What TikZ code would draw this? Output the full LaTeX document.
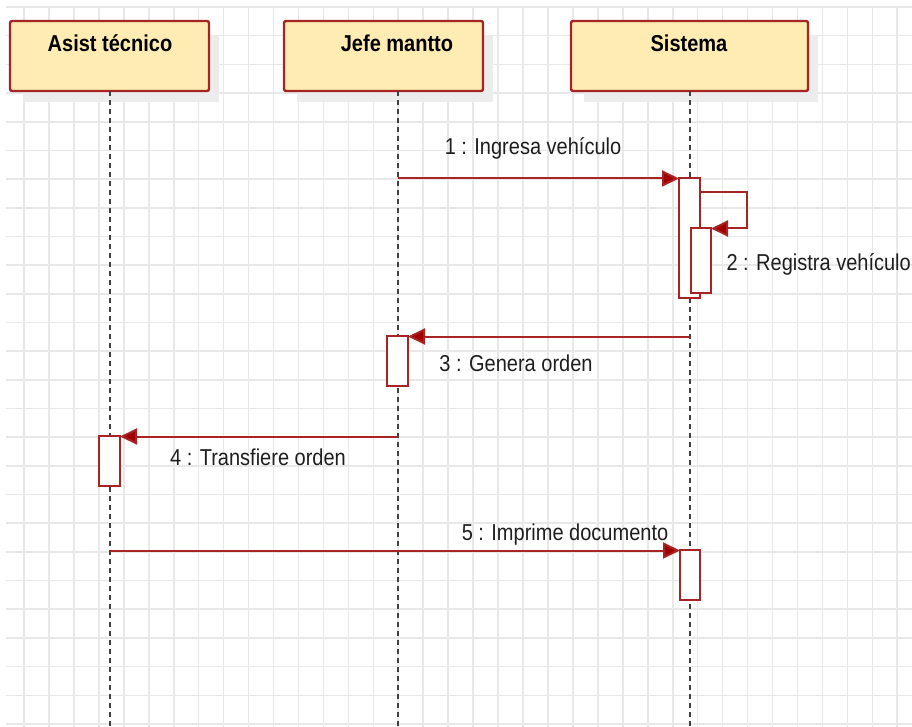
\documentclass[tikz,border=0pt]{standalone}
\usepackage{fontspec}
\setmainfont{Liberation Sans}[FakeStretch=0.87]
\usetikzlibrary{arrows.meta}
\definecolor{gridc}{RGB}{232,232,232}
\definecolor{redc}{RGB}{168,36,36}
\definecolor{arrc}{RGB}{160,0,0}
\definecolor{fillc}{RGB}{255,236,178}
\definecolor{shadc}{RGB}{236,236,236}
\definecolor{txtc}{RGB}{30,30,30}
\tikzset{
  header/.style={draw=redc, line width=2.4pt, fill=fillc, rounded corners=2pt, minimum width=199pt, minimum height=70pt, inner sep=0pt},
  headtext/.style={font=\fontsize{23}{23}\selectfont\bfseries, text=black, anchor=center},
  activ/.style={draw=redc, line width=2pt, fill=white, inner sep=0pt, outer sep=0pt, minimum width=21pt},
  lifeline/.style={draw=black!75, line width=1.4pt, dash pattern=on 5pt off 4pt},
  msg/.style={draw=redc, line width=2pt, -{Triangle[length=17pt,width=16pt,fill=arrc]}},
  msgtext/.style={font=\fontsize{23}{23}\selectfont, text=txtc},
}
\begin{document}
\begin{tikzpicture}[x=1pt,y=-1pt]
\useasboundingbox (0,0) rectangle (912,727);
% grid
\foreach \k in {0,...,25} {
  \draw[gridc, line width=1.6pt] (6,{7+28.68*\k}) -- (912,{7+28.68*\k});
}
\foreach \k in {0,...,35} {
  \draw[gridc, line width=1.6pt] ({24+24.95*\k},7) -- ({24+24.95*\k},727);
}
% shadows
\fill[shadc] (23,35) rectangle (219,102);
\fill[shadc] (297,35) rectangle (493,102);
\fill[shadc] (584,35) rectangle (818,102);
% headers
\node[header] (asist) at (109.5,56) {};
\node[header] (jefe) at (383.5,56) {};
\node[header, minimum width=237pt] (sis) at (689.5,56) {};
\node[headtext] (tasist) at (110,43) {Asist técnico};
\node[headtext] (tjefe) at (397,43) {Jefe mantto};
\node[headtext] (tsis) at (689,43) {Sistema};
% lifelines
\coordinate (la) at (110,727);
\coordinate (lj) at (398,727);
\coordinate (ls) at (690,727);
\draw[lifeline] (110,91) -- (la);
\draw[lifeline] (398,91) -- (lj);
\draw[lifeline] (690,91) -- (ls);
% activations
\node[activ, minimum height=120pt] (a1) at (689.5,238) {};
\node[activ, minimum width=20pt, minimum height=65pt] (a2) at (701,260.5) {};
\node[activ, minimum height=50pt] (a3) at (397.5,361) {};
\node[activ, minimum height=50pt] (a4) at (109.5,461) {};
\node[activ, minimum width=20pt, minimum height=50pt] (a5) at (690,575) {};
% messages
\coordinate (m1) at (398,178.5);
\draw[msg] (m1) -- (m1 -| a1.west);
\node[msgtext] (t1) at (533,148) {1 : Ingresa vehículo};
\coordinate (m2a) at (700,192);
\coordinate (m2b) at (747,192);
\coordinate (m2c) at (747,228.5);
\draw[msg] (m2a) -- (m2b) -- (m2c) -- (m2c -| a2.east);
\node[msgtext, anchor=west] (t2) at (723,264) {2 : Registra vehículo};
\coordinate (m3) at (690,336.5);
\draw[msg] (m3) -- (m3 -| a3.east);
\node[msgtext] (t3) at (516,363) {3 : Genera orden};
\coordinate (m4) at (398,436.5);
\draw[msg] (m4) -- (m4 -| a4.east);
\node[msgtext] (t4) at (258,457) {4 : Transfiere orden};
\coordinate (m5) at (110,550.5);
\draw[msg] (m5) -- (m5 -| a5.west);
\node[msgtext] (t5) at (565,535) {5 : Imprime documento};
\end{tikzpicture}
\end{document}
